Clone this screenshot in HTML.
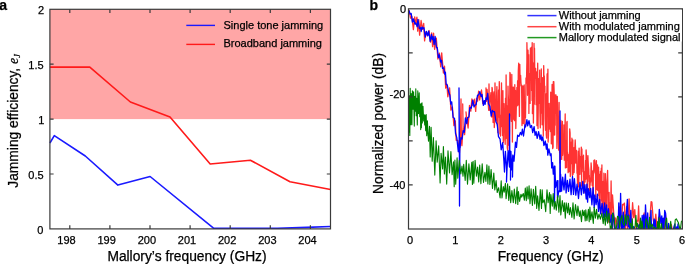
<!DOCTYPE html>
<html><head><meta charset="utf-8"><style>
html,body{margin:0;padding:0;background:#fff;}
svg{display:block;will-change:transform;}
text{font-family:"Liberation Sans",sans-serif;fill:#000;stroke:#000;stroke-width:0.25px;}
</style></head><body>
<svg width="685" height="264" viewBox="0 0 685 264">
<defs><clipPath id="cb"><rect x="408.5" y="8.8" width="273.9" height="220.2"/></clipPath></defs>
<rect x="0" y="0" width="685" height="264" fill="#fff"/>
<rect x="49.9" y="9.3" width="280.6" height="109.8" fill="#ffa6a6"/>
<polyline points="49.90,67.10 89.80,67.10 130.40,102.00 170.00,117.00 210.20,164.00 250.40,160.20 290.00,181.70 330.50,189.50" fill="none" stroke="#ff1a1a" stroke-width="1.6" stroke-linejoin="round"/>
<polyline points="49.90,143.00 54.30,135.60 85.30,156.00 117.90,185.10 150.10,176.50 213.80,228.30 277.50,228.30 306.70,227.40 330.50,226.50" fill="none" stroke="#1a1aff" stroke-width="1.6" stroke-linejoin="round"/>
<path d="M69.80,228.9 v-3.6 M69.80,9.3 v3.6 M109.90,228.9 v-3.6 M109.90,9.3 v3.6 M150.00,228.9 v-3.6 M150.00,9.3 v3.6 M190.10,228.9 v-3.6 M190.10,9.3 v3.6 M230.20,228.9 v-3.6 M230.20,9.3 v3.6 M270.30,228.9 v-3.6 M270.30,9.3 v3.6 M310.40,228.9 v-3.6 M310.40,9.3 v3.6 M49.9,174.00 h3.7 M330.5,174.00 h-3.7 M49.9,119.10 h3.7 M330.5,119.10 h-3.7 M49.9,64.20 h3.7 M330.5,64.20 h-3.7 " stroke="#3a3a3a" stroke-width="1.2" fill="none"/>
<rect x="49.9" y="9.3" width="280.6" height="219.6" fill="none" stroke="#3a3a3a" stroke-width="1.2"/>
<line x1="186.3" y1="25.4" x2="215" y2="25.4" stroke="#1a1aff" stroke-width="1.4"/>
<line x1="186.3" y1="44.4" x2="215" y2="44.4" stroke="#ff1a1a" stroke-width="1.4"/>
<text x="223.5" y="28.5" font-size="11">Single tone jamming</text>
<text x="223.5" y="47.4" font-size="11">Broadband jamming</text>
<g font-size="11" text-anchor="end">
<text x="44.1" y="14.2">2</text>
<text x="43.6" y="69">1.5</text>
<text x="44.3" y="124.2">1</text>
<text x="43.6" y="178.8">0.5</text>
<text x="43.3" y="233.8">0</text>
</g>
<g font-size="11" text-anchor="middle">
<text x="66.50" y="243.6">198</text>
<text x="106.67" y="243.6">199</text>
<text x="146.84" y="243.6">200</text>
<text x="187.01" y="243.6">201</text>
<text x="227.18" y="243.6">202</text>
<text x="267.35" y="243.6">203</text>
<text x="307.52" y="243.6">204</text>
</g>
<text x="187" y="261" font-size="13.8" text-anchor="middle">Mallory’s frequency (GHz)</text>
<text transform="translate(18.4,187.7) rotate(-90)" font-size="13.8">Jamming efficiency, <tspan font-family="Liberation Serif" font-style="italic">e</tspan><tspan font-family="Liberation Serif" font-style="italic" font-size="8" dy="2">J</tspan></text>
<text x="-0.8" y="9.8" font-size="14" font-weight="bold">a</text>
<g clip-path="url(#cb)">
<path d="M409.0,9.9 L410.5,18.2 L411.8,16.2 L413.4,29.7 L414.7,16.9 L415.7,24.1 L416.9,17.1 L417.7,31.2 L418.8,19.7 L419.6,35.1 L421.1,20.5 L422.6,29.4 L423.7,23.5 L424.6,40.9 L425.7,31.8 L427.4,35.9 L429.1,30.5 L430.5,42.2 L431.7,32.8 L432.6,46.7 L433.6,33.2 L434.6,49.3 L436.3,38.1 L437.9,59.0 L439.4,53.1 L440.7,66.8 L441.7,52.8 L443.4,73.0 L444.5,66.2 L445.7,88.1 L446.9,84.2 L447.8,96.8 L449.6,88.0 L450.9,110.1 L452.4,107.0 L453.9,125.7 L455.3,120.9 L456.2,140.2 L458.0,140.6 L459.4,153.1 L460.3,141.0 L461.0,99.0 L461.4,141.0 L461.9,145.7 L463.1,126.9 L462.7,104.0 L463.1,126.9 L464.6,134.6 L466.3,115.8 L466.0,112.0 L466.4,115.8 L468.1,128.0 L469.5,105.4 L470.8,111.2 L471.9,98.9 L472.8,105.3 L474.4,99.2 L475.7,111.4 L476.5,98.1 L477.6,101.2 L478.6,91.2 L479.7,100.0 L481.5,90.0 L482.8,103.6 L484.6,100.6 L486.1,101.3 L486.0,88.0 L486.4,101.3 L487.1,89.5 L488.7,110.3 L489.0,84.0 L489.4,110.3 L490.5,97.4 L490.9,92.7 L491.3,94.3 L491.7,117.1 L492.0,87.5 L492.3,88.7 L492.5,104.1 L492.7,101.7 L493.1,122.5 L493.3,112.7 L493.7,93.3 L493.9,92.0 L494.1,99.8 L494.3,127.5 L494.7,119.2 L495.0,82.9 L495.3,116.3 L495.8,104.3 L496.1,121.0 L496.5,96.9 L496.9,86.6 L497.2,113.7 L497.4,124.9 L497.6,117.0 L497.9,132.7 L498.2,115.5 L498.5,90.2 L498.8,117.0 L499.1,96.2 L499.3,81.6 L499.5,93.8 L499.9,133.9 L500.2,115.2 L500.5,136.1 L500.7,126.7 L501.1,126.7 L501.5,82.8 L501.9,119.2 L502.2,108.1 L502.5,135.6 L502.9,90.6 L503.3,142.4 L503.7,139.7 L504.0,103.6 L504.4,123.4 L504.8,108.9 L505.0,126.2 L505.2,144.3 L505.5,98.1 L505.9,138.5 L506.1,75.0 L506.4,119.9 L506.6,105.4 L507.0,116.3 L507.3,147.9 L507.7,150.1 L508.0,86.1 L508.2,94.6 L508.6,102.8 L509.0,145.3 L509.2,142.1 L509.6,130.4 L509.9,72.5 L510.3,74.2 L510.6,113.8 L510.9,114.0 L511.2,119.6 L511.4,121.4 L511.8,74.5 L512.2,110.4 L512.4,142.0 L512.7,87.5 L513.0,119.5 L513.4,87.1 L513.8,95.1 L514.1,116.8 L514.5,120.7 L514.8,84.7 L515.1,115.8 L515.5,90.4 L515.8,128.6 L516.2,112.6 L516.5,99.3 L516.9,87.3 L517.2,105.8 L517.6,80.6 L518.0,105.1 L518.3,70.8 L518.7,63.2 L519.1,93.0 L519.4,116.4 L519.8,64.4 L520.1,81.0 L520.4,78.5 L520.6,75.3 L521.0,83.0 L521.2,85.9 L521.6,85.1 L522.0,125.5 L522.2,98.2 L522.5,112.9 L522.9,85.9 L523.1,96.4 L523.3,123.7 L523.5,106.5 L523.7,114.3 L523.9,95.7 L524.2,84.9 L524.5,110.2 L524.9,127.0 L525.2,106.1 L525.5,117.7 L525.8,97.1 L526.0,78.0 L526.2,83.1 L526.5,80.1 L526.9,61.5 L526.9,42.7 L527.3,61.5 L527.2,61.7 L527.5,95.3 L527.7,77.9 L528.0,50.2 L528.5,76.3 L528.7,54.6 L528.9,113.4 L529.2,75.1 L529.4,73.9 L529.8,92.4 L530.1,103.4 L530.4,48.1 L530.6,48.9 L531.0,76.4 L531.3,47.4 L531.6,90.4 L531.8,47.2 L532.1,100.6 L532.2,42.7 L532.6,100.6 L532.4,113.5 L532.8,89.0 L533.0,62.9 L533.4,123.0 L533.7,103.0 L534.1,63.4 L534.0,43.5 L534.4,63.4 L534.3,104.2 L534.5,48.2 L534.8,78.4 L535.1,76.1 L535.4,69.2 L535.6,68.3 L535.9,86.2 L536.1,104.7 L536.4,92.5 L536.7,71.8 L537.0,125.7 L537.3,94.6 L537.7,63.2 L538.0,128.5 L538.4,98.6 L538.7,78.6 L539.0,95.7 L539.4,103.3 L539.7,70.1 L539.9,110.5 L540.3,127.8 L540.7,83.3 L540.9,113.1 L541.3,69.0 L541.5,100.4 L541.8,99.7 L542.1,124.8 L542.4,77.6 L542.6,120.0 L543.0,79.3 L543.3,136.1 L543.7,65.6 L544.1,86.5 L544.3,76.0 L544.5,91.0 L544.9,86.1 L545.1,118.7 L545.5,130.3 L545.9,110.1 L546.1,93.8 L546.3,134.7 L546.6,138.1 L546.8,98.0 L547.1,73.8 L547.3,110.1 L547.6,96.6 L547.9,69.1 L548.1,142.1 L548.5,134.9 L548.8,106.6 L549.2,103.5 L549.5,127.9 L549.9,129.3 L550.2,108.7 L550.4,131.5 L550.7,92.2 L550.9,94.5 L551.3,143.8 L551.6,143.5 L551.8,105.4 L552.1,84.4 L552.3,126.6 L552.7,148.7 L553.1,147.1 L553.3,81.7 L553.6,135.1 L553.8,81.6 L554.2,93.2 L554.4,107.4 L554.7,135.1 L554.9,109.1 L555.2,125.2 L555.4,95.0 L555.7,97.5 L556.0,95.0 L556.3,113.3 L556.6,104.4 L556.9,148.4 L557.1,142.0 L557.3,96.3 L557.6,105.9 L557.8,126.0 L558.2,117.2 L558.4,128.5 L558.6,150.1 L558.9,135.9 L559.1,102.5 L559.4,145.7 L559.6,152.7 L559.8,148.5 L560.1,163.0 L560.5,140.9 L560.9,120.5 L561.3,135.6 L561.7,159.4 L562.0,148.7 L562.4,121.4 L562.6,155.4 L562.8,153.8 L563.0,143.5 L563.4,146.5 L563.7,140.6 L563.9,125.0 L564.3,160.2 L564.5,130.1 L564.9,132.6 L565.2,114.0 L565.4,167.9 L565.7,148.2 L565.9,140.7 L566.3,143.2 L566.6,167.6 L566.8,122.7 L567.1,121.4 L567.3,160.3 L567.5,152.1 L567.7,160.2 L568.0,157.9 L568.1,172.7 L568.6,165.7 L568.9,154.2 L569.2,171.5 L569.4,170.6 L569.7,128.8 L570.1,132.9 L570.3,176.5 L570.6,153.0 L570.9,159.2 L571.2,142.2 L571.6,163.7 L571.9,138.2 L572.2,174.0 L572.4,175.8 L572.8,139.9 L573.0,174.5 L573.2,169.1 L573.4,160.3 L573.8,169.8 L574.0,147.7 L574.1,172.6 L574.4,164.4 L574.6,162.4 L574.9,146.5 L575.2,140.0 L575.5,147.2 L575.8,163.1 L576.2,153.3 L576.6,150.5 L577.0,173.2 L577.3,168.2 L577.5,183.6 L577.8,174.5 L578.1,173.9 L578.3,151.4 L578.6,186.9 L578.8,182.3 L579.1,148.1 L579.5,160.4 L579.7,169.4 L580.0,174.4 L580.2,162.7 L580.5,156.4 L580.7,165.8 L581.0,157.6 L581.3,147.1 L581.6,186.1 L581.9,148.9 L582.2,171.8 L582.5,156.4 L582.9,167.8 L583.3,165.3 L583.5,155.2 L583.8,191.3 L584.2,192.6 L584.5,171.8 L584.9,176.4 L585.1,182.1 L585.3,168.9 L585.6,160.3 L585.8,179.3 L586.1,149.9 L586.5,156.5 L586.8,178.0 L587.0,157.9 L587.3,195.5 L587.5,192.9 L587.9,155.6 L588.1,160.6 L588.4,166.3 L588.8,169.5 L589.1,181.4 L589.3,175.3 L589.6,190.9 L589.9,185.0 L590.1,185.4 L590.4,178.0 L590.7,182.0 L591.1,162.8 L591.5,169.1 L591.9,176.8 L592.2,185.5 L592.6,170.8 L592.9,189.9 L593.1,199.5 L593.3,176.3 L593.7,170.3 L593.9,160.3 L594.2,170.8 L594.4,169.2 L594.7,159.8 L595.1,173.1 L595.5,171.1 L595.8,196.9 L596.1,164.1 L596.4,160.6 L596.7,189.0 L596.9,189.4 L597.1,176.9 L597.5,164.8 L597.8,190.6 L598.0,176.1 L598.3,175.2 L598.6,167.1 L598.8,195.7 L599.1,180.5 L599.5,203.2 L599.8,174.2 L600.0,209.0 L600.4,171.5 L600.7,176.9 L601.0,192.7 L601.3,168.1 L601.6,200.9 L601.9,164.9 L602.1,213.6 L602.3,187.4 L602.7,207.5 L602.9,186.3 L603.2,181.3 L603.6,214.5 L603.9,173.2 L604.3,203.4 L604.7,185.4 L605.1,209.3 L605.4,173.7 L605.7,216.1 L605.9,214.1 L606.1,214.6 L606.5,217.1 L606.8,181.8 L607.2,178.0 L607.6,170.5 L608.0,192.4 L608.4,220.3 L608.6,221.8 L608.8,209.3 L609.1,192.3 L609.5,222.6 L609.7,202.5 L610.0,222.5 L610.3,212.9 L610.7,207.7 L611.1,180.9 L611.3,193.9 L611.6,219.3 L611.9,211.6 L612.5,194.8 L613.8,214.5 L614.6,231.0 L615.7,217.8 L616.9,222.7 L618.1,226.8 L619.4,206.8 L620.3,217.5 L621.4,229.6 L622.5,204.4 L623.3,204.9 L624.4,203.1 L625.3,231.0 L626.6,206.6 L627.5,231.0 L628.3,216.4 L629.1,198.8 L630.2,230.4 L631.3,227.3 L632.6,202.7 L633.7,217.6 L634.8,209.6 L636.2,231.0 L637.1,220.3 L637.9,221.0 L638.6,206.0 L639.6,231.0 L640.7,229.4 L641.5,225.2 L642.2,230.9 L643.5,217.0 L644.1,213.0 L644.7,229.2 L646.1,220.8 L646.9,228.4 L647.8,231.0 L649.2,231.0 L650.1,215.6 L651.1,201.7 L651.9,202.0 L653.2,219.6 L654.5,227.2 L655.8,214.1 L656.8,226.8 L657.9,228.3 L658.6,217.1 L659.4,226.6 L660.6,231.0 L661.3,231.0 L662.3,229.5 L663.1,227.8 L664.5,230.9 L665.4,213.8 L666.5,231.0 L667.5,229.8 L668.2,231.0 L669.0,226.2 L669.9,228.5 L671.3,224.5 L672.2,229.4 L673.0,231.0 L674.0,227.3 L675.4,231.0 L676.0,230.9 L676.6,231.0 L677.8,231.0 L679.0,231.0 L680.4,227.6 L681.0,231.0" fill="none" stroke="#ff3333" stroke-width="1.3" stroke-linejoin="round"/>
<path d="M409.0,10.5 L410.2,14.2 L411.2,13.5 L412.4,22.1 L413.5,18.9 L414.9,24.0 L415.8,22.9 L417.2,26.8 L417.9,19.3 L419.4,28.5 L420.6,27.7 L421.2,31.5 L422.0,27.0 L422.8,28.6 L423.9,27.7 L425.3,37.1 L426.5,31.4 L427.8,35.7 L428.7,31.1 L430.2,41.4 L431.5,34.3 L432.4,39.6 L433.1,36.6 L434.1,44.3 L435.1,36.4 L436.5,47.6 L437.3,47.7 L438.4,57.6 L439.4,54.8 L440.6,62.0 L441.5,60.3 L442.5,68.3 L443.8,68.0 L444.7,74.1 L445.4,72.1 L446.2,84.4 L447.3,85.0 L448.6,91.8 L449.8,94.9 L450.8,104.1 L451.7,101.8 L453.1,117.5 L454.5,118.3 L455.5,133.2 L456.8,137.6 L458.3,151.7 L459.2,141.0 L459.0,88.0 L459.4,141.0 L459.5,206.0 L459.9,141.0 L460.1,148.0 L460.9,137.7 L462.0,139.0 L463.2,130.7 L464.3,132.2 L465.4,118.0 L466.8,123.7 L467.6,117.7 L469.0,117.0 L469.8,107.7 L471.3,108.0 L472.8,100.1 L474.0,106.9 L474.7,105.4 L476.2,104.5 L477.5,95.4 L478.9,94.6 L479.8,91.6 L481.1,96.5 L482.0,94.4 L483.4,105.4 L484.3,100.7 L485.1,104.4 L486.0,97.9 L486.7,99.7 L487.7,93.3 L488.5,104.0 L489.9,106.1 L491.2,116.2 L492.3,110.3 L493.0,111.7 L494.5,111.6 L496.0,122.0 L497.2,124.2 L498.5,136.6 L500.1,139.2 L501.2,149.8 L502.7,142.6 L503.9,161.0 L504.5,172.0 L504.9,161.0 L505.4,151.3 L506.7,171.3 L506.5,182.0 L506.9,171.3 L508.1,150.7 L509.5,167.0 L509.5,114.0 L509.9,167.0 L510.6,151.3 L510.5,180.0 L510.9,151.3 L511.6,169.8 L512.8,155.2 L512.5,177.0 L512.9,155.2 L514.0,161.1 L515.5,142.1 L516.5,147.4 L517.6,135.2 L519.0,136.4 L520.4,132.4 L521.5,134.9 L522.4,129.2 L523.5,136.0 L525.0,125.0 L525.6,126.9 L526.9,119.6 L527.7,125.9 L529.0,120.7 L530.4,127.5 L531.6,125.5 L532.7,132.7 L534.1,126.7 L535.1,135.3 L536.1,131.6 L537.2,138.4 L538.6,131.7 L540.1,139.3 L540.9,134.9 L541.8,140.7 L542.8,137.0 L543.9,145.5 L545.3,141.0 L546.4,149.2 L547.1,143.9 L547.8,155.1 L548.9,148.9 L550.3,155.6 L551.1,153.8 L551.7,167.9 L552.6,162.6 L553.3,174.1 L554.4,166.1 L554.5,203.0 L554.9,166.1 L555.6,187.3 L557.1,180.6 L557.5,198.0 L557.9,180.6 L557.9,196.8 L558.7,191.2 L559.8,191.5 L560.0,111.0 L560.4,191.5 L560.6,174.1 L561.6,191.2 L562.7,177.2 L564.0,189.9 L565.4,174.2 L566.1,192.9 L567.4,180.3 L568.5,191.4 L570.0,179.2 L571.1,194.7 L572.5,176.5 L573.5,194.4 L574.4,178.7 L575.8,195.2 L577.1,184.1 L578.5,198.5 L580.0,182.3 L581.4,194.8 L582.8,181.4 L583.8,193.3 L584.9,184.7 L586.2,199.0 L586.9,184.1 L587.6,202.1 L588.4,188.7 L589.8,197.7 L590.6,188.4 L591.9,204.8 L593.1,187.6 L594.2,207.7 L594.9,195.0 L596.1,204.7 L597.4,194.1 L598.5,211.4 L599.6,199.4 L600.6,213.9 L602.1,203.4 L603.5,217.7 L604.6,203.0 L605.5,216.8 L606.6,204.8 L607.2,221.3 L608.4,208.6 L609.7,222.0 L610.5,222.2 L611.3,214.8 L611.8,231.0 L612.4,227.9 L613.3,213.1 L614.0,218.5 L614.8,230.5 L615.5,230.2 L616.4,231.0 L617.3,231.0 L618.1,225.9 L618.8,202.8 L619.2,231.0 L620.1,219.4 L620.6,193.3 L621.5,231.0 L622.2,230.8 L622.8,215.5 L623.3,212.1 L623.8,230.3 L624.6,224.7 L625.3,217.7 L626.0,225.5 L626.4,212.3 L627.4,199.3 L628.2,226.8 L628.8,215.1 L629.6,231.0 L630.1,226.9 L630.8,210.4 L631.5,231.0 L632.4,225.4 L633.1,230.1 L633.8,226.7 L634.6,231.0 L635.4,230.8 L636.2,231.0 L636.8,228.0 L637.5,231.0 L638.2,230.5 L638.8,224.8 L639.8,224.8 L640.7,231.0 L641.6,227.9 L642.2,215.5 L643.1,231.0 L643.7,214.9 L644.3,230.3 L644.7,231.0 L645.5,204.8 L646.5,224.9 L646.9,229.1 L647.7,213.0 L648.5,230.6 L649.2,225.9 L650.0,230.2 L651.0,210.5 L651.5,229.9 L652.4,230.1 L653.3,225.2 L654.1,219.0 L654.7,230.0 L655.2,219.8 L656.1,231.0 L657.0,227.7 L657.5,227.4 L658.5,224.1 L659.3,209.4 L660.2,217.0 L660.9,223.4 L661.8,215.8 L662.5,229.3 L663.2,218.2 L663.9,231.0 L664.7,210.4 L665.6,213.3 L666.5,227.0 L667.4,230.1 L667.9,230.6 L668.5,223.3 L669.3,228.9 L670.0,231.0 L670.7,226.9 L671.4,231.0 L672.0,230.6 L672.8,231.0 L673.3,230.6 L674.1,226.1 L674.9,223.9 L675.5,231.0 L676.2,229.2 L676.7,227.0 L677.4,230.7 L678.0,224.0 L678.4,229.6 L679.0,230.8 L679.6,230.6 L680.6,228.2 L681.4,230.8" fill="none" stroke="#0000ff" stroke-width="1.3" stroke-linejoin="round"/>
<path d="M409.0,132.8 L409.4,95.9 L409.8,135.5 L410.2,88.3 L410.7,124.8 L411.2,93.5 L411.9,124.7 L412.4,90.7 L413.0,109.3 L413.6,91.7 L414.3,126.1 L414.7,96.4 L415.4,111.3 L415.8,88.7 L416.2,115.7 L416.7,98.4 L417.3,125.0 L417.8,90.9 L418.5,113.6 L419.2,92.8 L419.7,116.6 L420.3,104.4 L420.7,129.6 L421.0,103.6 L421.4,127.8 L422.0,102.7 L422.3,123.0 L423.0,106.2 L423.7,120.9 L424.2,114.7 L424.7,125.0 L425.0,115.1 L425.7,130.7 L426.2,114.5 L426.7,135.8 L427.4,120.7 L428.0,134.8 L428.5,141.1 L429.5,126.3 L430.2,156.9 L431.1,127.2 L432.2,161.3 L433.4,137.5 L434.8,175.1 L436.1,140.8 L437.2,162.3 L438.7,145.9 L440.1,182.9 L441.1,153.2 L442.6,168.9 L443.4,146.5 L444.4,174.0 L445.5,157.1 L446.7,184.1 L448.0,150.7 L449.5,172.9 L450.9,151.6 L452.1,174.6 L453.5,161.7 L454.2,186.7 L454.9,160.1 L455.7,184.2 L457.1,157.8 L457.8,178.3 L459.3,160.2 L460.8,174.0 L462.0,166.0 L463.0,176.2 L463.7,164.4 L465.2,180.4 L466.3,160.2 L467.5,184.1 L468.9,163.9 L470.2,180.0 L471.8,162.4 L472.4,184.5 L473.1,161.3 L473.8,183.2 L475.1,160.2 L476.4,176.1 L477.6,167.1 L478.7,181.9 L479.7,165.0 L480.9,183.6 L482.2,163.9 L483.5,182.4 L484.9,172.3 L485.9,181.4 L486.9,164.8 L487.9,184.0 L488.9,166.1 L489.9,184.4 L491.1,169.5 L492.5,188.5 L493.8,173.1 L494.8,190.0 L496.1,180.5 L497.2,192.5 L498.6,187.7 L500.1,198.0 L501.2,180.9 L502.0,197.9 L503.3,186.6 L504.2,192.2 L505.4,183.4 L506.1,198.8 L507.6,183.7 L508.8,200.4 L509.6,186.2 L510.7,202.6 L511.9,190.6 L513.3,202.7 L514.3,189.1 L515.7,203.6 L517.1,187.0 L517.8,204.4 L518.5,191.5 L519.6,201.5 L521.0,194.2 L521.7,197.1 L523.3,193.6 L524.4,200.3 L525.3,188.0 L526.3,200.6 L527.1,186.7 L528.1,198.9 L529.1,185.9 L530.0,203.8 L531.1,188.8 L532.4,205.5 L533.4,189.2 L534.7,204.0 L535.7,186.3 L536.7,208.5 L537.6,195.7 L539.0,210.5 L540.3,189.5 L541.5,208.4 L542.2,189.7 L542.9,202.7 L544.3,199.8 L545.7,211.8 L547.0,189.7 L548.1,202.8 L549.5,192.6 L550.2,213.5 L550.9,194.5 L552.3,206.3 L553.2,193.5 L554.2,209.3 L555.2,201.6 L556.3,210.2 L557.6,195.9 L558.9,212.2 L560.0,195.5 L560.8,214.9 L562.3,200.6 L563.6,211.4 L564.4,202.9 L565.3,218.1 L566.2,202.7 L567.6,213.0 L568.4,203.3 L569.4,214.7 L570.4,207.6 L571.9,217.5 L573.0,202.7 L574.1,218.9 L575.5,204.6 L577.0,215.7 L577.9,206.1 L579.4,216.5 L580.2,210.9 L581.5,221.7 L582.4,210.1 L583.4,215.6 L584.2,210.6 L585.2,221.0 L585.8,209.7 L586.9,220.7 L588.4,209.3 L589.2,221.7 L589.9,207.1 L590.7,219.8 L592.0,211.9 L593.3,223.4 L594.2,207.4 L595.4,218.1 L596.5,209.3 L597.8,219.3 L599.0,214.1 L600.4,219.2 L601.9,213.2 L603.2,223.6 L604.4,213.9 L605.3,225.2 L606.6,211.0 L607.6,223.1 L609.0,213.2 L609.9,223.3 L610.3,229.1 L611.0,226.0 L611.7,231.0 L612.6,213.0 L613.9,217.4 L614.6,223.2 L615.5,230.2 L616.2,229.6 L617.5,216.2 L618.7,217.2 L619.5,228.1 L620.6,219.2 L621.9,215.6 L622.5,222.3 L623.7,224.6 L624.4,225.3 L625.1,214.7 L626.4,223.9 L627.2,215.8 L628.3,216.6 L629.6,225.0 L630.5,223.3 L631.4,230.6 L632.3,218.9 L632.9,231.0 L634.0,229.1 L635.1,226.1 L635.9,215.2 L636.7,227.2 L637.4,223.3 L638.3,228.2 L639.5,228.7 L640.5,218.1 L641.2,231.0 L642.0,221.1 L643.1,229.9 L643.9,230.6 L644.9,231.0 L646.1,218.7 L647.4,221.9 L648.8,231.0 L649.6,217.4 L650.8,227.6 L652.2,224.2 L653.4,229.3 L654.2,227.2 L654.9,228.1 L656.3,228.8 L656.9,231.0 L657.6,221.5 L658.5,229.4 L659.2,217.7 L660.1,230.4 L660.8,231.0 L661.5,223.6 L662.2,231.0 L663.2,230.0 L664.6,231.0 L665.6,222.1 L666.6,218.1 L667.6,230.1 L668.5,231.0 L669.4,230.0 L670.7,221.3 L671.7,231.0 L672.5,230.1 L673.3,230.2 L674.6,231.0 L675.2,219.9 L676.3,218.8 L677.2,220.5 L678.3,222.5 L679.5,227.1 L680.2,230.5 L681.5,220.8" fill="none" stroke="#008000" stroke-width="1.1" stroke-linejoin="round"/>
</g>
<rect x="408.5" y="8.8" width="273.9" height="220.2" fill="none" stroke="#3a3a3a" stroke-width="1.2"/>
<path d="M408.5,52.84 h4.2 M682.4,52.84 h-4.2 M408.5,96.88 h4.2 M682.4,96.88 h-4.2 M408.5,140.92 h4.2 M682.4,140.92 h-4.2 M408.5,184.96 h4.2 M682.4,184.96 h-4.2 " stroke="#3a3a3a" stroke-width="1.2" fill="none"/>
<rect x="527" y="10" width="155" height="31.5" fill="#fff"/>
<line x1="527.4" y1="15.6" x2="556.5" y2="15.6" stroke="#3333ff" stroke-width="1.5"/>
<line x1="527.4" y1="26.7" x2="556.5" y2="26.7" stroke="#ff4444" stroke-width="1.5"/>
<line x1="527.4" y1="37.6" x2="556.5" y2="37.6" stroke="#229922" stroke-width="1.5"/>
<g font-size="11">
<text x="558.8" y="18.8">Without jamming</text>
<text x="558.8" y="29.9">With modulated jamming</text>
<text x="558.8" y="41">Mallory modulated signal</text>
</g>
<g font-size="11" text-anchor="end">
<text x="406" y="12.6">0</text>
<text x="405.4" y="98.4">-20</text>
<text x="405.4" y="188.6">-40</text>
</g>
<g font-size="11" text-anchor="middle">
<text x="410.00" y="243.6">0</text>
<text x="455.35" y="243.6">1</text>
<text x="500.70" y="243.6">2</text>
<text x="546.05" y="243.6">3</text>
<text x="591.40" y="243.6">4</text>
<text x="636.75" y="243.6">5</text>
<text x="682.10" y="243.6">6</text>
</g>
<text x="550.6" y="260.5" font-size="13.8" text-anchor="middle">Frequency (GHz)</text>
<text transform="translate(383.3,194) rotate(-90)" font-size="13.8">Normalized power (dB)</text>
<text x="369.6" y="9.9" font-size="14" font-weight="bold">b</text>
</svg>
</body></html>
